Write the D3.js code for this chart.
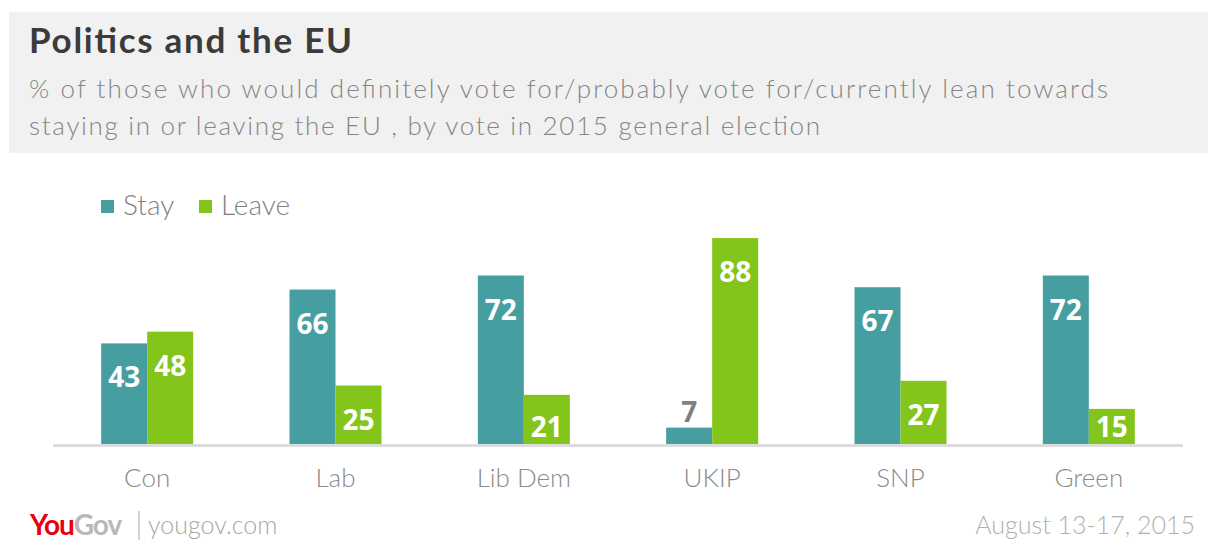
<!DOCTYPE html>
<html>
<head>
<meta charset="utf-8">
<script src="https://cdn.jsdelivr.net/npm/d3@7"></script>
<style>
  body { margin: 0; background: #fff; }
  svg { display: block; font-family: "Lato", "Open Sans", sans-serif; }
</style>
</head>
<body>
<div id="chart"></div>
<script>
// data
const parties = ['Con', 'Lab', 'Lib Dem', 'UKIP', 'SNP', 'Green'];
const series = ['Stay', 'Leave'];
const stay = [43, 66, 72, 7, 67, 72];
const leave = [48, 25, 21, 88, 27, 15];

const width = 1208;
const height = 541;

const color = d3.scaleOrdinal()
    .domain(series)
    .range(['#469ea1', '#84c51b']);

const svg = d3.select('#chart')
    .append('svg')
    .attr('width', width)
    .attr('height', height);

// header box
svg.append('rect')
    .attr('x', 9)
    .attr('y', 12)
    .attr('width', width - 9)
    .attr('height', 141)
    .attr('fill', '#f1f1f1');

svg.append('text')
    .text('Politics and the EU')
    .attr('x', 29)
    .attr('y', 53)
    .attr('textLength', 323)
    .attr('lengthAdjust', 'spacing')
    .style('font-size', '35px')
    .style('font-weight', 700)
    .attr('fill', '#3b3b3b');

const subtitle = [
    '% of those who would definitely vote for/probably vote for/currently lean towards',
    'staying in or leaving the EU , by vote in 2015 general election'
];
const subWidths = [1079, 791];
svg.selectAll('.subtitle')
    .data(subtitle)
    .enter()
    .append('text')
    .attr('class', 'subtitle')
    .text(d => d)
    .attr('x', 29)
    .attr('y', (d, i) => 98 + i * 37)
    .attr('textLength', (d, i) => subWidths[i])
    .attr('lengthAdjust', 'spacing')
    .style('font-size', '26px')
    .style('font-weight', 300)
    .attr('fill', '#858585');

// scales
const x0 = d3.scaleBand()
    .domain(parties)
    .range([53, 1183])
    .paddingInner(0.5115)
    .paddingOuter(0.5115 / 2);

const x1 = d3.scaleBand()
    .domain(series)
    .range([0, x0.bandwidth()]);

const y = d3.scaleLinear()
    .domain([0, 100])
    .range([444, 210]);

const rows = parties.map((p, i) => ({
    party: p,
    values: [
        { key: 'Stay', value: stay[i] },
        { key: 'Leave', value: leave[i] }
    ]
}));

const groups = svg.selectAll('.group')
    .data(rows)
    .enter()
    .append('g')
    .attr('class', 'group')
    .attr('transform', d => `translate(${x0(d.party)}, 0)`);

const cells = groups.selectAll('g')
    .data(d => d.values)
    .enter()
    .append('g');

cells.append('rect')
    .attr('x', d => x1(d.key))
    .attr('y', d => y(d.value))
    .attr('width', x1.bandwidth())
    .attr('height', d => y(0) - y(d.value))
    .attr('fill', d => color(d.key));

cells.append('text')
    .text(d => d.value)
    .attr('x', d => x1(d.key) + x1.bandwidth() / 2)
    .attr('y', d => d.value < 10 ? y(d.value) - 6 : Math.min(y(d.value) + 44, 437))
    .attr('text-anchor', 'middle')
    .style('font-family', '"Open Sans", sans-serif')
    .style('font-size', '28px')
    .style('font-weight', 700)
    .attr('fill', d => d.value < 10 ? '#7f7f7f' : '#fff');

// baseline
svg.append('line')
    .attr('x1', 53)
    .attr('x2', 1183)
    .attr('y1', 445.5)
    .attr('y2', 445.5)
    .attr('stroke', '#dcdcdc')
    .attr('stroke-width', 3);

// category labels
svg.selectAll('.cat')
    .data(parties)
    .enter()
    .append('text')
    .attr('class', 'cat')
    .text(d => d)
    .attr('x', d => x0(d) + x0.bandwidth() / 2)
    .attr('y', 487)
    .attr('text-anchor', 'middle')
    .style('font-size', '26px')
    .style('font-weight', 300)
    .attr('fill', '#8a8a8a');

// legend
const legend = svg.selectAll('.legend')
    .data(series)
    .enter()
    .append('g')
    .attr('class', 'legend')
    .attr('transform', (d, i) => `translate(${101 + i * 98}, 0)`);

legend.append('rect')
    .attr('x', 0)
    .attr('y', 200)
    .attr('width', 13)
    .attr('height', 13)
    .attr('fill', d => color(d));

legend.append('text')
    .text(d => d)
    .attr('x', 22)
    .attr('y', 215)
    .style('font-size', '28px')
    .style('font-weight', 300)
    .attr('fill', '#7f7f7f');

// footer
const logo = svg.append('text')
    .attr('x', 30)
    .attr('y', 535)
    .style('font-size', '28px')
    .style('font-weight', 700)
    .style('letter-spacing', '-1px');
logo.append('tspan').text('You').attr('fill', '#e8000f');
logo.append('tspan').text('Gov').attr('fill', '#b8b8b8');

svg.append('line')
    .attr('x1', 139)
    .attr('x2', 139)
    .attr('y1', 511)
    .attr('y2', 540)
    .attr('stroke', '#aaa')
    .attr('stroke-width', 1);

svg.append('text')
    .text('yougov.com')
    .attr('x', 148)
    .attr('y', 534)
    .style('font-size', '25px')
    .style('font-weight', 300)
    .attr('fill', '#a8a8a8');

svg.append('text')
    .text('August 13-17, 2015')
    .attr('x', 1195)
    .attr('y', 534)
    .attr('text-anchor', 'end')
    .style('font-size', '25px')
    .style('font-weight', 300)
    .attr('fill', '#b0b0b0');
</script>
</body>
</html>
